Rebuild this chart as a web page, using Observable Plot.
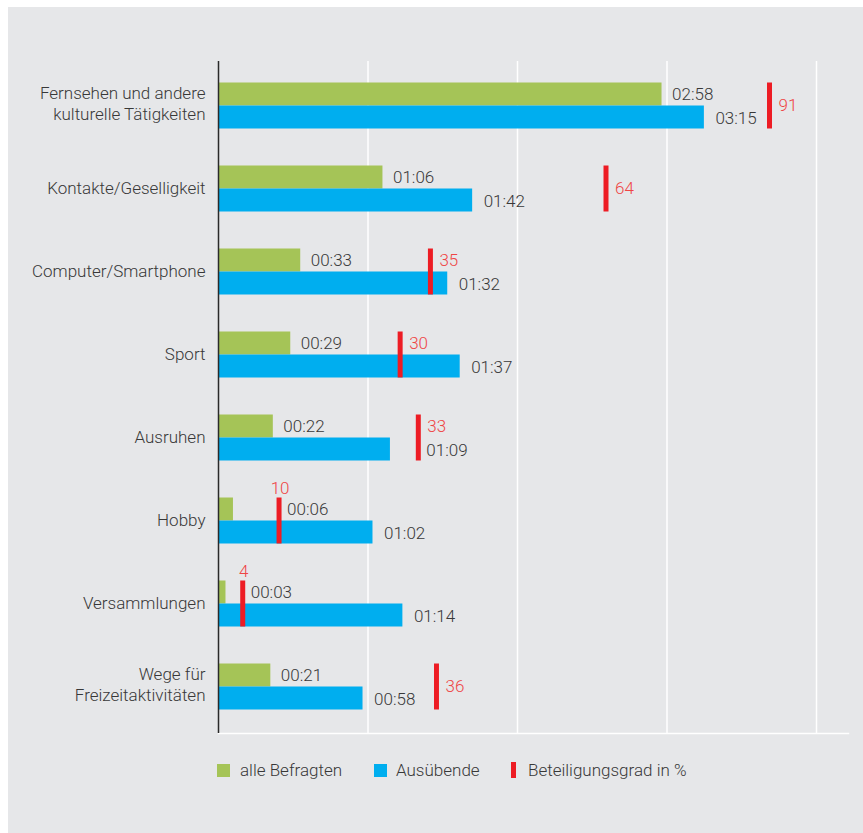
<!DOCTYPE html>
<html>
<head>
<meta charset="utf-8">
<script src="https://cdn.jsdelivr.net/npm/d3@7"></script>
<script src="https://cdn.jsdelivr.net/npm/@observablehq/plot@0.6"></script>
<style>
  html, body { margin: 0; padding: 0; background: #ffffff; }
  body { width: 863px; height: 833px; position: relative; overflow: hidden;
         font-family: Roboto, "Liberation Sans", sans-serif; font-weight: 300; }
  #bg { position: absolute; left: 8px; top: 7px; width: 855px; height: 826px; background: #e6e7e9; }
  #chart { position: absolute; left: 0; top: 0; }
  #legend { position: absolute; left: 0; top: 0; width: 863px; height: 833px; pointer-events: none; }
  .lg-sw { position: absolute; }
  .lg-tx { position: absolute; font-size: 17px; color: #383838; line-height: 1; white-space: nowrap; }
</style>
</head>
<body>
<div id="bg"></div>
<div id="chart"></div>
<div id="legend"></div>
<script>
// ---- data ----
const categories = [
  "Fernsehen und andere\nkulturelle Tätigkeiten",
  "Kontakte/Geselligkeit",
  "Computer/Smartphone",
  "Sport",
  "Ausruhen",
  "Hobby",
  "Versammlungen",
  "Wege für\nFreizeitaktivitäten"
];
// minutes per day
const alleBefragten = [178, 66, 33, 29, 22, 6, 3, 21];
const ausuebende    = [195, 102, 92, 97, 69, 62, 74, 58];
// participation in %
const beteiligung   = [91, 64, 35, 30, 33, 10, 4, 36];
const xTicks = [0, 60, 120, 180, 240];
const legendLabels = ["alle Befragten", "Ausübende", "Beteiligungsgrad in %"];

// ---- styling ----
const GREEN = "#a5c457", BLUE = "#00aeef", RED = "#ed1c24", RED_TXT = "#ef4545", TXT = "#383838";
const PCT_TO_MIN = 2.43; // participation drawn on the shared x axis

const fmt = m => String(Math.floor(m / 60)).padStart(2, "0") + ":" + String(m % 60).padStart(2, "0");

const data = categories.map((c, i) => ({
  cat: c, alle: alleBefragten[i], aus: ausuebende[i], pct: beteiligung[i], pm: beteiligung[i] * PCT_TO_MIN
}));
const WIN = 22; // minutes of room a value label needs after a bar end
const collide = (v, m) => m >= v - 1 && m <= v + WIN;
data.forEach(d => {
  d.gCol = collide(d.alle, d.pm);
  d.bCol = collide(d.aus, d.pm);
  d.pPos = d.pm > d.aus + WIN ? "mid" : (d.pm > d.alle + WIN ? "top" : "above");
});

const W = 863, H = 745;
const FS = 17;
const textBase = {fontSize: FS, fill: TXT, textAnchor: "start"};

const plot = Plot.plot({
  width: W, height: H,
  marginLeft: 218, marginRight: 47, marginTop: 63.5, marginBottom: H - 727.5,
  style: {background: "transparent", fontFamily: "Roboto, 'Liberation Sans', sans-serif", fontWeight: 300, color: TXT},
  x: {domain: [0, 240], axis: null},
  y: {domain: categories, padding: 0, axis: null},
  marks: [
    Plot.ruleX(xTicks.slice(1), {stroke: "#ffffff", strokeWidth: 1.5, insetTop: -2.5, insetBottom: -5.5}),
    Plot.frame({anchor: "bottom", stroke: "#ffffff", strokeWidth: 1.5, insetBottom: -5.5, insetRight: -32}),
    Plot.barX(data, {y: "cat", x: "alle", fill: GREEN, insetTop: 18.5, insetBottom: 41.5}),
    Plot.barX(data, {y: "cat", x: "aus", fill: BLUE, insetTop: 41.5, insetBottom: 18.5}),
    Plot.tickX(data, {y: "cat", x: "pm", stroke: RED, strokeWidth: 5, insetTop: 18.5, insetBottom: 18.5}),
    Plot.ruleX([0], {stroke: "#2a2a2a", strokeWidth: 1.5, insetTop: -2.5, insetBottom: -5.5}),
    // category labels (single-line and two-line)
    Plot.text(categories.filter(c => !c.includes("\n")), {y: d => d, frameAnchor: "left", dx: -13, dy: 0,
      textAnchor: "end", fontSize: FS, fill: TXT}),
    Plot.text(categories.filter(c => c.includes("\n")), {y: d => d, frameAnchor: "left", dx: -13, dy: -3.5,
      textAnchor: "end", fontSize: FS, fill: TXT, lineHeight: 1.28}),
    // value labels: alle Befragten
    Plot.text(data.filter(d => !d.gCol), {...textBase, y: "cat", x: "alle", text: d => fmt(d.alle), dx: 10, dy: -11}),
    Plot.text(data.filter(d => d.gCol), {...textBase, y: "cat", x: "pm", text: d => fmt(d.alle), dx: 8, dy: -11}),
    // value labels: Ausübende
    Plot.text(data.filter(d => !d.bCol), {...textBase, y: "cat", x: "aus", text: d => fmt(d.aus), dx: 11, dy: 13}),
    Plot.text(data.filter(d => d.bCol), {...textBase, y: "cat", x: "pm", text: d => fmt(d.aus), dx: 8, dy: 13}),
    // participation labels
    Plot.text(data.filter(d => d.pPos === "mid"), {...textBase, fill: RED_TXT, y: "cat", x: "pm", text: d => String(d.pct), dx: 9, dy: 0}),
    Plot.text(data.filter(d => d.pPos === "top"), {...textBase, fill: RED_TXT, y: "cat", x: "pm", text: d => String(d.pct), dx: 9, dy: -11}),
    Plot.text(data.filter(d => d.pPos === "above"), {...textBase, fill: RED_TXT, textAnchor: "middle", y: "cat", x: "pm", text: d => String(d.pct), dx: 1, dy: -32})
  ]
});
document.getElementById("chart").appendChild(plot);

// ---- legend ----
const lg = document.getElementById("legend");
const items = [
  {label: legendLabels[0], color: GREEN, sw: [217, 764, 13, 13], tx: 240},
  {label: legendLabels[1], color: BLUE, sw: [374, 764, 13, 13], tx: 396},
  {label: legendLabels[2], color: RED, sw: [511, 762, 5, 16], tx: 528}
];
items.forEach(it => {
  const s = document.createElement("div");
  s.className = "lg-sw";
  s.style.cssText = `left:${it.sw[0]}px;top:${it.sw[1]}px;width:${it.sw[2]}px;height:${it.sw[3]}px;background:${it.color}`;
  lg.appendChild(s);
  const t = document.createElement("div");
  t.className = "lg-tx";
  t.style.left = it.tx + "px";
  t.style.top = "762px";
  t.textContent = it.label;
  lg.appendChild(t);
});
</script>
</body>
</html>
